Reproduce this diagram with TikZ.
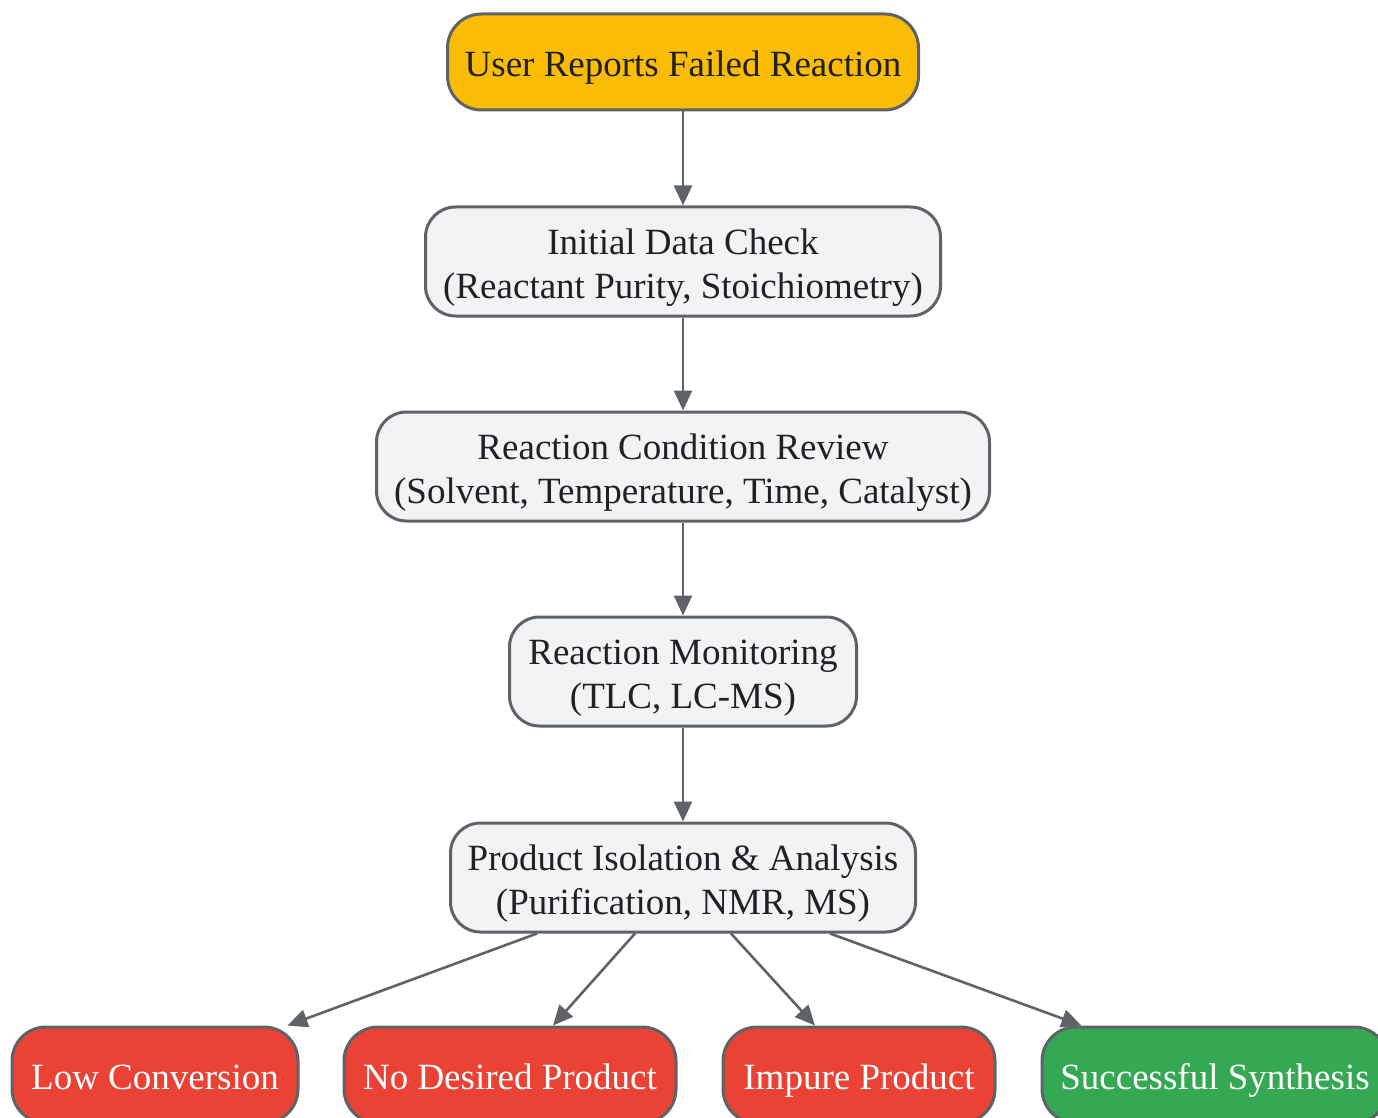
\documentclass[tikz,border=0pt]{standalone}
\usepackage{fontspec}
\setmainfont{Liberation Serif}
\usetikzlibrary{arrows.meta,calc}
\definecolor{bordergray}{HTML}{5F6368}
\definecolor{boxgray}{HTML}{F1F3F4}
\definecolor{txtdark}{HTML}{202124}
\definecolor{yel}{HTML}{FBBC05}
\definecolor{red}{HTML}{EA4335}
\definecolor{grn}{HTML}{34A853}
\newcommand{\boxtext}[1]{\begin{tabular}[t]{@{}c@{}}#1\end{tabular}}
\tikzset{
  box/.style={draw=bordergray, line width=3pt, rounded corners=30pt,
    inner sep=0pt, font=\fontsize{37}{44}\selectfont, text=txtdark},
  oneline/.style={text height=30.8pt, text depth=1.8pt, minimum height=96pt, rounded corners=34pt},
  twoline/.style={text height=30.8pt, text depth=45.8pt, minimum height=109pt},
  startbox/.style={box, oneline, fill=yel},
  stepbox/.style={box, twoline, fill=boxgray},
  badbox/.style={box, oneline, fill=red, text=white},
  goodbox/.style={box, oneline, fill=grn, text=white},
  conn/.style={draw=bordergray, line width=2.6pt, -{Triangle[length=20pt,width=18pt]}}
}
\begin{document}
\begin{tikzpicture}[x=1pt,y=-1pt]
\useasboundingbox (0,0) rectangle (1378,1118);
\node[startbox, minimum width=471pt] (n1) at (683,62) {\boxtext{User Reports Failed Reaction}};
\node[stepbox, minimum width=515pt] (n2) at (683,261.5) {\boxtext{Initial Data Check\\(Reactant Purity, Stoichiometry)}};
\node[stepbox, minimum width=613pt] (n3) at (683,466.5) {\boxtext{Reaction Condition Review\\(Solvent, Temperature, Time, Catalyst)}};
\node[stepbox, minimum width=347pt] (n4) at (683,671.5) {\boxtext{Reaction Monitoring\\(TLC, LC-MS)}};
\node[stepbox, minimum width=465pt] (n5) at (683,877.5) {\boxtext{Product Isolation \& Analysis\\(Purification, NMR, MS)}};
\node[badbox, minimum width=286pt] (b1) at (155,1075) {\boxtext{Low Conversion}};
\node[badbox, minimum width=332pt] (b2) at (510,1075) {\boxtext{No Desired Product}};
\node[badbox, minimum width=272pt] (b3) at (859,1075) {\boxtext{Impure Product}};
\node[goodbox, minimum width=346pt] (b4) at (1215,1075) {\boxtext{Successful Synthesis}};
\draw[conn] (n1.south) -- (n2.north);
\draw[conn] (n2.south) -- (n3.north);
\draw[conn] (n3.south) -- (n4.north);
\draw[conn] (n4.south) -- (n5.north);
\draw[conn] ($(n5.south)+(-146,0)$) -- ($(b1.north east)+(-12,0)$);
\draw[conn] ($(n5.south)+(-48,0)$) -- ($(b2.north)+(43,0)$);
\draw[conn] ($(n5.south)+(48,0)$) -- ($(b3.north)+(-44,0)$);
\draw[conn] ($(n5.south)+(147,0)$) -- ($(b4.north west)+(41,0)$);
\end{tikzpicture}
\end{document}
